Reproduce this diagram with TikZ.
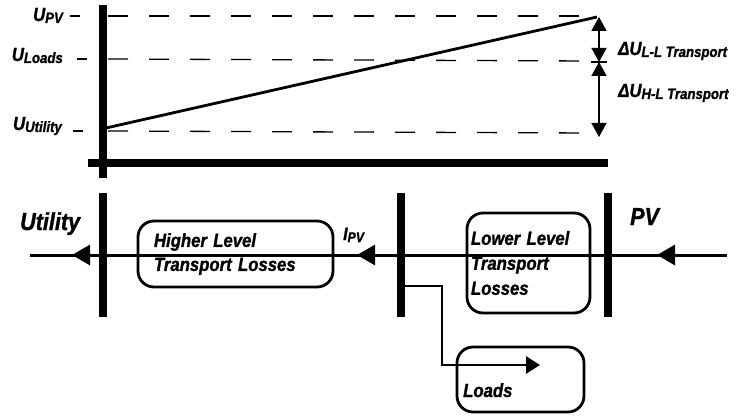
\documentclass[tikz,border=0pt]{standalone}
\usepackage{fontspec}
\setmainfont{Liberation Sans}[FakeStretch=0.88, BoldItalicFeatures={FakeBold=1.2}]
\usetikzlibrary{arrows.meta}
\newcommand\sbs[2][15]{\raisebox{-2pt}{\fontsize{#1}{#1}\selectfont #2}}
\begin{document}
\begin{tikzpicture}[x=1pt,y=-1pt,
  ulbl/.style={inner sep=0pt, font=\fontsize{19}{20}\selectfont\bfseries\itshape},
  big/.style={inner sep=0pt, font=\fontsize{24.5}{26}\selectfont\bfseries\itshape},
  bar/.style={line width=8pt},
  dsh/.style={line width=1.3pt, dash pattern=on 20pt off 21pt},
  tk/.style={line width=1.3pt},
  wire/.style={line width=3pt},
  tri/.style={-{Triangle[length=18pt,width=20pt]}},
  dim/.style={line width=1.4pt, {Triangle[length=14pt,width=15pt]}-{Triangle[length=14pt,width=15pt]}},
  box/.style={draw, line width=2.8pt, rounded corners=16pt, inner ysep=0pt, align=left,
    font=\fontsize{19}{24}\selectfont\bfseries\itshape}
]
\useasboundingbox (0,0) rectangle (739,417);
% ---------- voltage graph ----------
\coordinate (vaT) at (103,5);   \coordinate (vaB) at (103,178);
\coordinate (haL) at (88,163);  \coordinate (haR) at (608,163);
\draw[bar] (vaT) -- (vaB);
\draw[bar] (haL) -- (haR);

\coordinate (pvL) at (108,16);  \coordinate (pvR) at (590,16);
\coordinate (ldL) at (108,59);  \coordinate (ldR) at (590,61);
\coordinate (utL) at (108,131); \coordinate (utR) at (590,133);
\draw[dsh] (pvL) -- (pvR);
\draw[dsh] (ldL) -- (ldR);
\draw[dsh] (utL) -- (utR);

\node[ulbl, anchor=base east] (lpv) at (63,21) {U\sbs{PV}};
\node[ulbl, anchor=base east] (lld) at (63,61) {U\sbs{Loads}};
\node[ulbl, anchor=base east] (lut) at (62,130) {U\sbs{Utility}};
\coordinate (dpv1) at (70,16);  \coordinate (dpv2) at (80,16);
\coordinate (dld1) at (77,59);  \coordinate (dld2) at (87,59);
\coordinate (dut1) at (73,131); \coordinate (dut2) at (83,131);
\draw[tk] (dpv1) -- (dpv2);
\draw[tk] (dld1) -- (dld2);
\draw[tk] (dut1) -- (dut2);

\coordinate (slA) at (106,128); \coordinate (slB) at (597,17);
\draw[line width=2.8pt] (slA) -- (slB);

\coordinate (aT) at (599,17); \coordinate (aM) at (599,62); \coordinate (aB) at (599,137);
\draw[dim] (aT) -- (aM);
\draw[dim] (aM) -- (aB);
\coordinate (tk1) at (591,62); \coordinate (tk2) at (607,62);
\draw[tk] (tk1) -- (tk2);

\node[ulbl, anchor=base west] (dll) at (618,55) {ΔU\sbs{L-L Transport}};
\node[ulbl, anchor=base west] (dhl) at (618,97) {ΔU\sbs{H-L Transport}};

% ---------- single line diagram ----------
\coordinate (mL) at (30,255); \coordinate (mR) at (727,255);
\draw[wire] (mL) -- (mR);

\coordinate (ubT) at (103,193); \coordinate (ubB) at (103,317);
\coordinate (mbT) at (401,193); \coordinate (mbB) at (401,317);
\coordinate (pbT) at (608,193); \coordinate (pbB) at (608,317);
\draw[bar] (ubT) -- (ubB);
\draw[bar] (mbT) -- (mbB);
\draw[bar] (pbT) -- (pbB);

\coordinate (ar1a) at (96,255);  \coordinate (ar1b) at (72,255);
\coordinate (ar2a) at (381,255); \coordinate (ar2b) at (357,255);
\coordinate (ar3a) at (681,255); \coordinate (ar3b) at (657,255);
\draw[wire, tri] (ar1a) -- (ar1b);
\draw[wire, tri] (ar2a) -- (ar2b);
\draw[wire, tri] (ar3a) -- (ar3b);

\node[big, anchor=base west] (utl) at (20,230) {Utility};
\node[big, anchor=base west] (pvl) at (630,225) {PV};
\node[inner sep=0pt, font=\fontsize{18}{20}\selectfont\bfseries\itshape, anchor=base west] (ipv) at (343,240) {I\sbs[14]{PV}};

\node[box, text width=163pt, inner xsep=16pt, minimum height=66pt] (hbox) at (235.5,254)
  {Higher Level\\Transport Losses};
\node[box, text width=115pt, inner xsep=4pt, minimum height=100pt,
  font=\fontsize{19}{25}\selectfont\bfseries\itshape] (lbox) at (528.5,263)
  {Lower Level\\Transport\\Losses};
\node[box, minimum width=127pt, minimum height=65pt] (ldbox) at (520.5,379.5) {};
\node[inner sep=0pt, font=\fontsize{19}{20}\selectfont\bfseries\itshape, anchor=base west] (ldl) at (463,397) {Loads};

\coordinate (br0) at (401,286); \coordinate (br1) at (442,286);
\coordinate (br2) at (442,365); \coordinate (br3) at (540,365);
\draw[line width=2.8pt, -{Triangle[length=14pt,width=17pt]}] (br0) -- (br1) -- (br2) -- (br3);
\end{tikzpicture}
\end{document}
